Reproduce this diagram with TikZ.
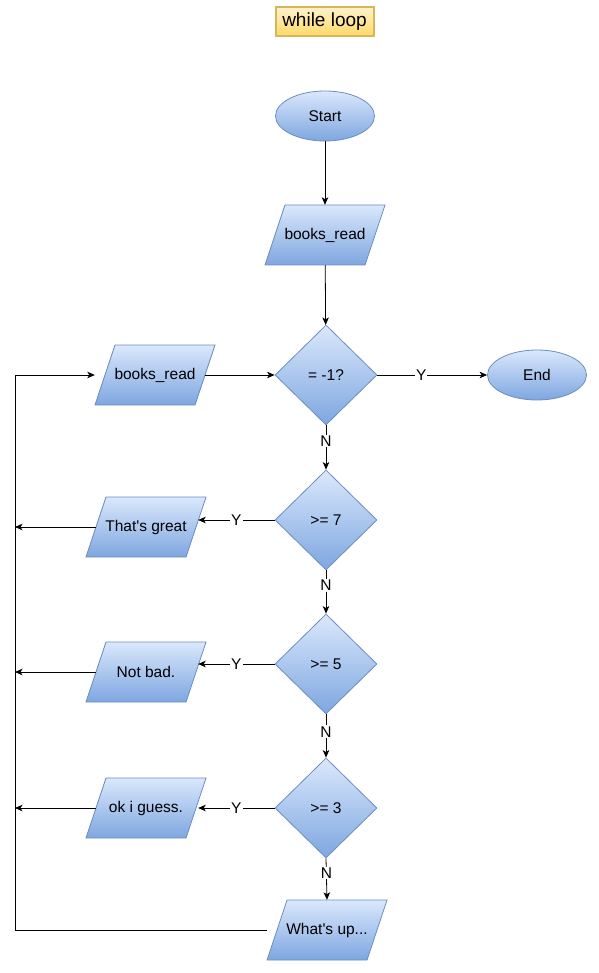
\documentclass[tikz,border=0pt]{standalone}
\usepackage{fontspec}
\setmainfont{Liberation Sans}
\usetikzlibrary{shapes.geometric,arrows.meta}
\definecolor{bTop}{HTML}{DAE8FC}
\definecolor{bBot}{HTML}{7EA6E0}
\definecolor{bLine}{HTML}{6C8EBF}
\definecolor{yTop}{HTML}{FFF2CC}
\definecolor{yBot}{HTML}{FFD966}
\definecolor{yLine}{HTML}{D6B656}
\tikzset{
  fillb/.style={draw=bLine, top color=bTop, bottom color=bBot, line width=0.8pt},
  base/.style={fillb, font=\fontsize{15.5}{18}\selectfont, inner sep=0pt},
  term/.style={base, ellipse, minimum width=99pt, minimum height=50pt},
  iotext/.style={font=\fontsize{15.5}{18}\selectfont, inner sep=0pt, minimum width=100pt, minimum height=60pt},
  decision/.style={base, diamond, minimum width=102pt, minimum height=100pt},
  conn/.style={draw=black, line width=0.8pt, -{Stealth[length=7.5pt,width=6.5pt,inset=2pt]}},
  lbl/.style={fill=white, inner sep=1pt, font=\fontsize{15.5}{18}\selectfont}
}
% parallelogram: name, x, y, text
\newcommand\ioshape[4]{%
  \path[fillb] (#2-40,#3-30) -- (#2+60,#3-30) -- (#2+40,#3+30) -- (#2-60,#3+30) -- cycle;
  \node[iotext] (#1) at (#2,#3) {#4};}
\begin{document}
\begin{tikzpicture}[x=1pt,y=-1pt]
\useasboundingbox (0,0) rectangle (598,973);
\node[draw=yLine, line width=2pt, top color=yTop, bottom color=yBot, minimum width=98pt, minimum height=29pt, inner sep=0pt, font=\fontsize{19}{22}\selectfont] (title) at (324.5,22) {while loop};

\node[term] (start) at (325,116) {Start};
\ioshape{br1}{325}{235}{books\_read}
\node[decision] (d1) at (326,375) {= -1?};
\node[term] (end) at (537,375) {End};
\ioshape{br2}{155}{375}{books\_read}
\node[decision] (d7) at (326,520) {>= 7};
\ioshape{tg}{146}{527}{That\textquotesingle s great}
\node[decision] (d5) at (326,664) {>= 5};
\ioshape{nb}{146}{672}{Not bad.}
\node[decision] (d3) at (326,808) {>= 3};
\ioshape{ok}{146}{808}{ok i guess.}
\ioshape{wu}{327}{930}{What\textquotesingle s up...}

\coordinate (l7) at (15,527);
\coordinate (l5) at (15,672);
\coordinate (l3) at (15,808);
\coordinate (lb) at (15,930);
\coordinate (lt) at (15,375);

\path[conn] (start) -- (br1);
\path[conn] (br1) -- (d1);
\path[conn] (d1.east) -- node[lbl, pos=0.4] {Y} (end.west);
\path[conn] (br2.east |- d1.west) -- (d1.west);
\path[conn] (d1.south) -- node[lbl, pos=0.35] {N} (d7.north);
\path[conn] (d7.west) -- node[lbl] {Y} ([xshift=2pt]d7.west -| tg.east);
\path[conn] (tg.west) -- (l7);
\path[conn] (d7.south) -- node[lbl, pos=0.35] {N} (d5.north);
\path[conn] (d5.west) -- node[lbl] {Y} ([xshift=2pt]d5.west -| nb.east);
\path[conn] (nb.west) -- (l5);
\path[conn] (d5.south) -- node[lbl, pos=0.4] {N} (d3.north);
\path[conn] (d3.west) -- node[lbl] {Y} ([xshift=2pt]d3.west -| ok.east);
\path[conn] (ok.west) -- (l3);
\path[conn] (d3.south) -- node[lbl, pos=0.35] {N} (wu.north);
\path[conn] ([xshift=-10pt]wu.west) -- (lb) -- (lt) -- ([xshift=-10pt]br2.west |- lt);
\end{tikzpicture}
\end{document}
